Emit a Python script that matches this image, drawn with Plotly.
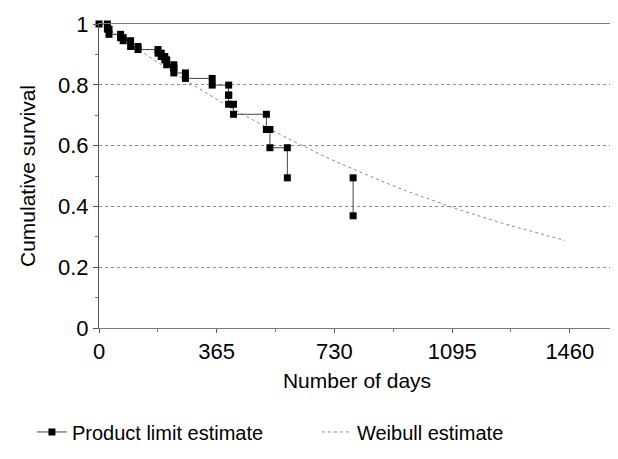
import plotly.graph_objects as go

# Product limit (Kaplan-Meier) estimate: event day and survival after the event
km_days = [26, 31, 67, 75, 98, 121, 183, 193, 204, 210, 232, 232, 268, 351,
           402, 402, 417, 519, 530, 584, 788]
km_surv = [0.983, 0.966, 0.955, 0.945, 0.926, 0.916, 0.904, 0.893, 0.882, 0.866,
           0.855, 0.839, 0.821, 0.799, 0.766, 0.736, 0.703, 0.653, 0.593, 0.494, 0.369]
km_gap_before = [788]  # horizontal segment not visible in the original

# Weibull estimate
wb_days = [0, 50, 100, 150, 200, 250, 300, 350, 400, 450, 500, 550, 600, 650, 700,
           750, 800, 850, 900, 950, 1000, 1050, 1100, 1150, 1200, 1250, 1300, 1350,
           1400, 1445]
wb_surv = [1.0, 0.967, 0.931, 0.896, 0.861, 0.827, 0.794, 0.761, 0.730, 0.700, 0.671,
           0.643, 0.616, 0.589, 0.564, 0.540, 0.517, 0.494, 0.473, 0.452, 0.433, 0.413,
           0.395, 0.378, 0.361, 0.345, 0.330, 0.315, 0.301, 0.288]

x_ticks = [0, 365, 730, 1095, 1460]
x_tick_labels = ["0", "365", "730", "1095", "1460"]

# step-function coordinates (hv)
xs, ys = [0], [1.0]
prev = 1.0
for t, s in zip(km_days, km_surv):
    if t in km_gap_before:
        xs += [None, t, t]
        ys += [None, prev, s]
    else:
        xs += [t, t]
        ys += [prev, s]
    prev = s

FONT = "Liberation Sans, Arial, sans-serif"

fig = go.Figure()
fig.add_trace(go.Scatter(
    x=wb_days, y=wb_surv, mode="lines", name="Weibull estimate",
    line=dict(color="#8a8a8a", width=1, dash="dot"), legendrank=2,
    cliponaxis=False,
))
fig.add_trace(go.Scatter(
    x=xs, y=ys, mode="lines+markers", name="Product limit estimate",
    line=dict(color="#444444", width=1),
    marker=dict(symbol="square", size=7, color="black"),
    legendrank=1, cliponaxis=False, connectgaps=False,
))

# page body adds an 8px offset, so the figure is sized/placed to compensate
fig.update_layout(
    width=610, height=451,
    margin=dict(l=91, r=3, t=16, b=131, autoexpand=False),
    paper_bgcolor="white", plot_bgcolor="white",
    font=dict(family=FONT, color="black", size=20),
    showlegend=True,
    legend=dict(orientation="h", x=-0.13, xanchor="left", y=-0.342, yanchor="middle",
                font=dict(size=20, family=FONT), bgcolor="rgba(0,0,0,0)",
                itemwidth=30, entrywidth=240),
    xaxis=dict(
        range=[0, 1600], tickvals=x_ticks, ticktext=x_tick_labels,
        showgrid=False, zeroline=False, automargin=False,
        showline=True, linecolor="#7a7a7a", linewidth=1, mirror=True,
        ticks="outside", ticklen=4, tickcolor="#555",
        minor=dict(ticks="outside", dtick=182.5, tick0=0, ticklen=3, tickcolor="#777"),
        tickfont=dict(size=22, family=FONT),
        title=dict(text="Number of days", font=dict(size=21, family=FONT), standoff=9),
    ),
    yaxis=dict(
        range=[0, 1], dtick=0.2, tick0=0,
        showgrid=True, gridcolor="#888888", griddash="dot", gridwidth=1,
        zeroline=False, automargin=False,
        showline=True, linecolor="#555555", linewidth=1, mirror=True,
        ticks="outside", ticklen=5, tickcolor="#555",
        minor=dict(ticks="outside", dtick=0.1, ticklen=3, tickcolor="#777", showgrid=False),
        tickfont=dict(size=22, family=FONT),
        title=dict(text="Cumulative survival", font=dict(size=21, family=FONT), standoff=16),
    ),
)

fig.write_html("out.html")
